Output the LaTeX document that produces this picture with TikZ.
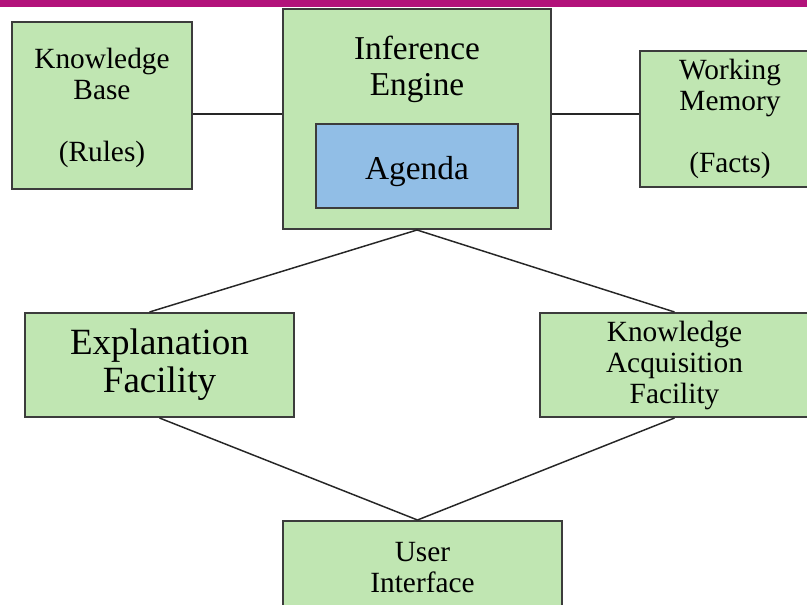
\documentclass[tikz,border=0pt]{standalone}
\usepackage{fontspec}
\setmainfont{Liberation Serif}
\usetikzlibrary{calc}
\definecolor{boxgreen}{RGB}{192,230,178}
\definecolor{boxblue}{RGB}{145,190,230}
\definecolor{bordergray}{RGB}{60,60,60}
\definecolor{barmagenta}{RGB}{178,18,122}
\tikzset{
  box/.style={draw=bordergray, line width=1.5pt, fill=boxgreen, rectangle, align=center, inner sep=0pt},
  bluebox/.style={box, fill=boxblue},
  link/.style={draw=black!85, line width=1.1pt},
  basefont/.style={font=\fontsize{22}{23.25}\selectfont},
  bigfont/.style={font=\fontsize{25}{27}\selectfont},
  hugefont/.style={font=\fontsize{27.75}{28.5}\selectfont}
}
\begin{document}
\begin{tikzpicture}[x=0.75pt, y=-0.75pt]
\clip (0,0) rectangle (807,605);
\fill[white] (0,0) rectangle (807,605);
\fill[barmagenta] (0,0) rectangle (807,7);
\node[box, basefont, minimum width=180*0.75pt, minimum height=167*0.75pt] (kb) at (102,105.5) {\\[-4pt]Knowledge\\Base\\[23.25pt](Rules)};
\node[box, minimum width=268*0.75pt, minimum height=220*0.75pt] (ie) at (417,119) {};
\node[bigfont, align=center] (ietext) at (417,69) {Inference\\Engine};
\node[bluebox, bigfont, text height=25pt, text depth=5pt, minimum width=202*0.75pt, minimum height=84*0.75pt] (ag) at (417,166) {Agenda};
\node[box, basefont, minimum width=180*0.75pt, minimum height=136*0.75pt] (wm) at (730,119) {Working\\Memory\\[23.25pt](Facts)};
\node[box, hugefont, minimum width=269*0.75pt, minimum height=104*0.75pt] (ef) at (159.5,365) {Explanation\\Facility};
\node[box, basefont, minimum width=269*0.75pt, minimum height=104*0.75pt] (kaf) at (674.5,365) {Knowledge\\Acquisition\\Facility};
\node[box, basefont, minimum width=279*0.75pt, minimum height=94*0.75pt] (ui) at (422.5,568) {User\\Interface};
\coordinate (kbe) at ($(kb.east)+(0,8.5)$);
\draw[link] (kbe) -- (kbe -| ie.west);
\coordinate (wmw) at ($(wm.west)+(0,-5)$);
\draw[link] (wmw -| ie.east) -- (wmw);
\draw[link] (ie.south) -- ($(ef.north)+(-10,0)$);
\draw[link] (ie.south) -- (kaf.north);
\draw[link] (ef.south) -- ($(ui.north)+(-5,0)$);
\draw[link] (kaf.south) -- ($(ui.north)+(-5,0)$);
\end{tikzpicture}
\end{document}
